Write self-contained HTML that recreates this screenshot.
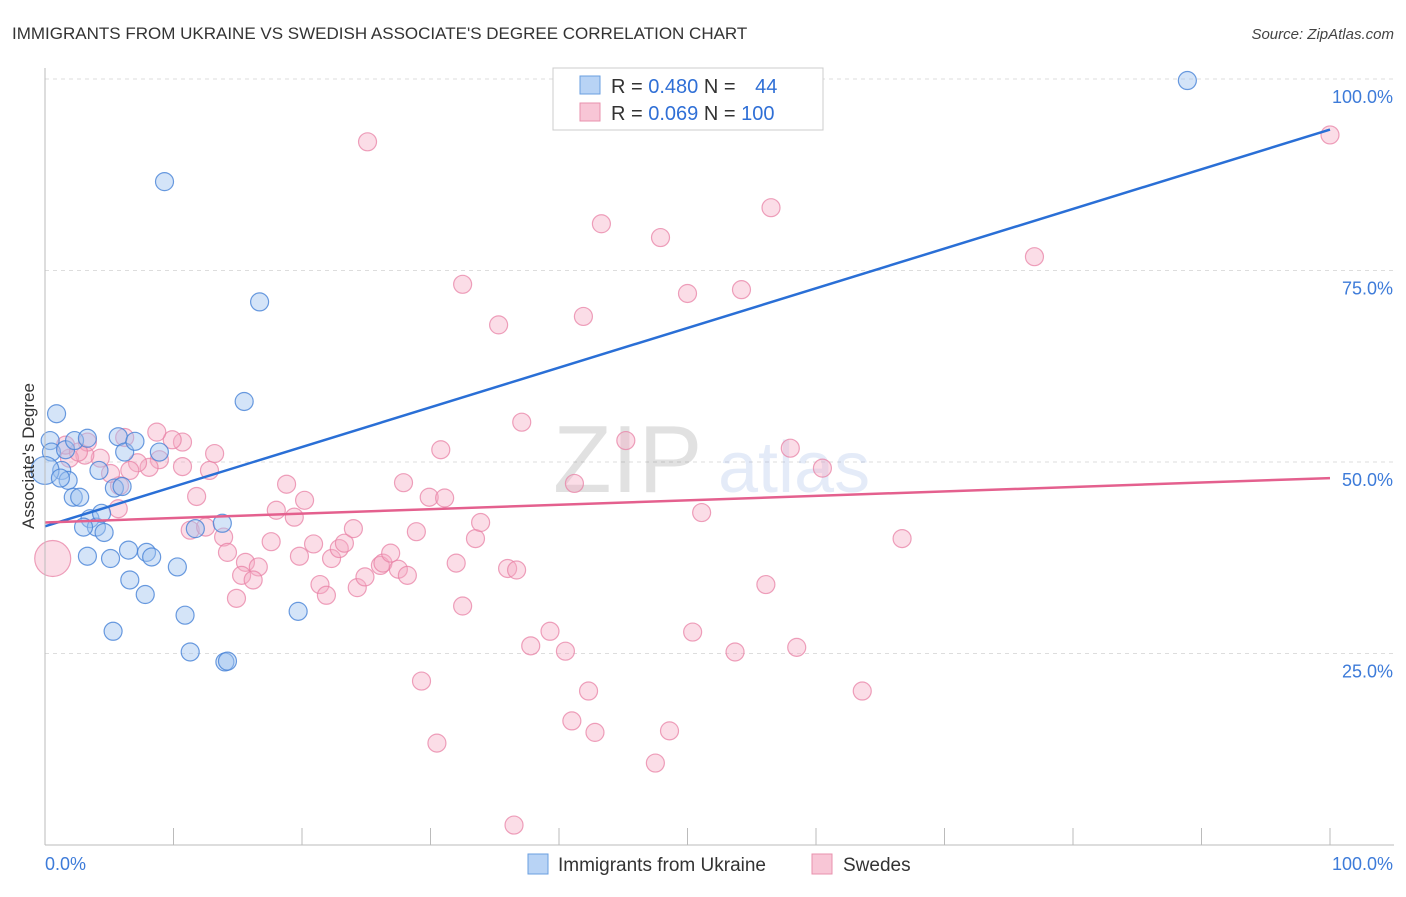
<!DOCTYPE html>
<html><head><meta charset="utf-8">
<style>
body{margin:0;background:#fff;font-family:"Liberation Sans",sans-serif;}
svg text{font-family:"Liberation Sans",sans-serif;}
</style></head>
<body>
<svg id="chart" width="1406" height="892" viewBox="0 0 1406 892" xmlns="http://www.w3.org/2000/svg">
<text x="12" y="39" font-size="17" fill="#333">IMMIGRANTS FROM UKRAINE VS SWEDISH ASSOCIATE'S DEGREE CORRELATION CHART</text>
<text x="1394" y="39" font-size="15" fill="#444" font-style="italic" text-anchor="end">Source: ZipAtlas.com</text>
<g id="grid"></g>
<g opacity="0.13">
<text x="553" y="492" font-size="96" font-family="Liberation Serif" fill="#222">ZIP</text>
<text x="718" y="492" font-size="72" fill="#3b6fd0">atlas</text>
</g>
<g id="points"></g>
<g id="lines"></g>
<g id="axes"></g>
<text transform="translate(34,456) rotate(-90)" font-size="17" fill="#333" text-anchor="middle">Associate's Degree</text>
<g>
<rect x="553" y="68" width="270" height="62" fill="#fff" stroke="#ccc"/>
<rect x="580" y="76" width="20" height="18" fill="#b8d3f5" stroke="#6a9fe0"/>
<rect x="580" y="103" width="20" height="18" fill="#f8c6d6" stroke="#e891ad"/>
<text x="611" y="93" font-size="20" fill="#333">R = <tspan fill="#2f6fd6">0.480</tspan>   N = <tspan fill="#2f6fd6" dx="14">44</tspan></text>
<text x="611" y="120" font-size="20" fill="#333">R = <tspan fill="#2f6fd6">0.069</tspan>   N = <tspan fill="#2f6fd6">100</tspan></text>
</g>
<g>
<rect x="528" y="854" width="20" height="20" fill="#b8d3f5" stroke="#6a9fe0"/>
<text x="558" y="871" font-size="19" fill="#333">Immigrants from Ukraine</text>
<rect x="812" y="854" width="20" height="20" fill="#f8c6d6" stroke="#e891ad"/>
<text x="843" y="871" font-size="19" fill="#333">Swedes</text>
</g>
</svg>
<script>
const yTicks=[25,50,75,100];
const yTickLabels=["25.0%","50.0%","75.0%","100.0%"];
const xTickLabels=["0.0%","100.0%"];
const blueX=[0.9,0.4,0.5,1.3,1.8,1.6,2.3,3.3,2.2,2.7,4.2,3.5,4.0,4.6,3.0,3.3,5.1,5.3,5.7,6.2,7.0,5.4,6.0,6.5,6.6,7.8,7.9,8.3,8.9,9.3,10.3,10.9,11.3,11.7,13.8,14.0,14.2,15.5,16.7,19.7,88.9,4.4,0,1.2];
const blueY=[56.3,52.8,51.3,48.9,47.6,51.6,52.8,53.1,45.4,45.4,48.9,42.6,41.5,40.8,41.5,37.7,37.4,27.9,53.3,51.3,52.7,46.6,46.8,38.5,34.6,32.7,38.2,37.6,51.3,86.6,36.3,30.0,25.2,41.3,42.0,23.9,24.0,57.9,70.9,30.5,99.8,43.3,48.9,47.9];
const pinkX=[25.1,43.3,47.9,56.5,77.0,100,32.5,35.3,41.9,50.0,54.2,37.1,45.2,30.8,58.0,60.5,51.1,66.7,0.6,13.2,10.7,9.9,8.7,8.9,8.1,7.2,6.6,5.8,5.7,5.1,4.3,3.1,1.9,1.6,3.3,2.6,6.2,10.7,12.8,11.8,11.3,12.5,13.9,14.2,15.6,14.9,16.6,15.3,16.2,17.6,18.0,18.8,19.4,20.2,19.8,20.9,21.4,21.9,22.3,22.9,23.3,24.0,24.3,24.9,26.1,26.3,26.9,27.5,28.2,27.9,28.9,29.9,31.1,32.0,33.5,33.9,32.5,36.0,36.7,37.8,39.3,40.5,41.2,42.3,41.0,42.8,30.5,29.3,47.5,48.6,50.4,53.7,56.1,58.5,63.6,36.5];
const pinkY=[91.8,81.1,79.3,83.2,76.8,92.7,73.2,67.9,69.0,72.0,72.5,55.2,52.8,51.6,51.8,49.2,43.4,40.0,37.4,51.1,52.6,52.9,53.9,50.3,49.3,49.9,48.9,46.9,43.9,48.5,50.5,50.9,50.5,52.2,52.6,51.3,53.2,49.4,48.9,45.5,41.1,41.5,40.2,38.2,36.9,32.2,36.3,35.2,34.6,39.6,43.7,47.1,42.8,45.0,37.7,39.3,34.0,32.6,37.4,38.7,39.4,41.3,33.6,35.0,36.5,36.8,38.1,36.0,35.2,47.3,40.9,45.4,45.3,36.8,40.0,42.1,31.2,36.1,35.9,26.0,27.9,25.3,47.2,20.1,16.2,14.7,13.3,21.4,10.7,14.9,27.8,25.2,34.0,25.8,20.1,2.6];
const blueLine=[41.6,93.4];
const pinkLine=[42.1,47.9];
const X0=45,X1=1330,Y0=845,Y100=79;
const sx=v=>X0+(X1-X0)*v/100;
const sy=v=>Y0-(Y0-Y100)*v/100;
const NS="http://www.w3.org/2000/svg";
function mk(tag,attrs,parent){const e=document.createElementNS(NS,tag);for(const k in attrs)e.setAttribute(k,attrs[k]);parent.appendChild(e);return e;}
const grid=document.getElementById('grid'),axes=document.getElementById('axes');
yTicks.forEach((t,i)=>{
 const g=mk('line',{x1:X0,x2:1394,y1:sy(t),y2:sy(t),stroke:'#ddd','stroke-dasharray':'4,4'},grid);
 
 
 const l=mk('text',{x:1393,y:sy(t)+24,'font-size':18,fill:'#3d7bd9','text-anchor':'end'},axes);
 l.textContent=yTickLabels[i];
 
 
});
mk('line',{x1:X0,x2:X0,y1:68,y2:845,stroke:'#bbb'},axes);
mk('line',{x1:X0,x2:1394,y1:845,y2:845,stroke:'#bbb'},axes);
for(let i=1;i<=10;i++){const t=mk('line',{x1:sx(i*10),x2:sx(i*10),y1:828,y2:845,stroke:'#bbb'},axes);
 
 }
const xl0=mk('text',{x:45,y:870,'font-size':18,fill:'#3d7bd9'},axes);xl0.textContent=xTickLabels[0];


const xl1=mk('text',{x:1393,y:870,'font-size':18,fill:'#3d7bd9','text-anchor':'end'},axes);xl1.textContent=xTickLabels[1];


const pts=document.getElementById('points');
pinkX.forEach((x,i)=>{const r=(i===18)?18:9;
 const c=mk('circle',{cx:sx(x),cy:sy(pinkY[i]),r:r,fill:'rgba(245,170,195,0.4)',stroke:'rgba(232,130,165,0.75)','stroke-width':1.2},pts);
 
 });
blueX.forEach((x,i)=>{const r=(i===42)?14:9;
 const c=mk('circle',{cx:sx(x),cy:sy(blueY[i]),r:r,fill:'rgba(160,195,240,0.45)',stroke:'rgba(70,130,215,0.8)','stroke-width':1.2},pts);
 
 });
const ln=document.getElementById('lines');
const bl=mk('line',{x1:sx(0),y1:sy(blueLine[0]),x2:sx(100),y2:sy(blueLine[1]),stroke:'#2a6fd6','stroke-width':2.5},ln);


const pl=mk('line',{x1:sx(0),y1:sy(pinkLine[0]),x2:sx(100),y2:sy(pinkLine[1]),stroke:'#e4608e','stroke-width':2.5},ln);


</script>
</body></html>
